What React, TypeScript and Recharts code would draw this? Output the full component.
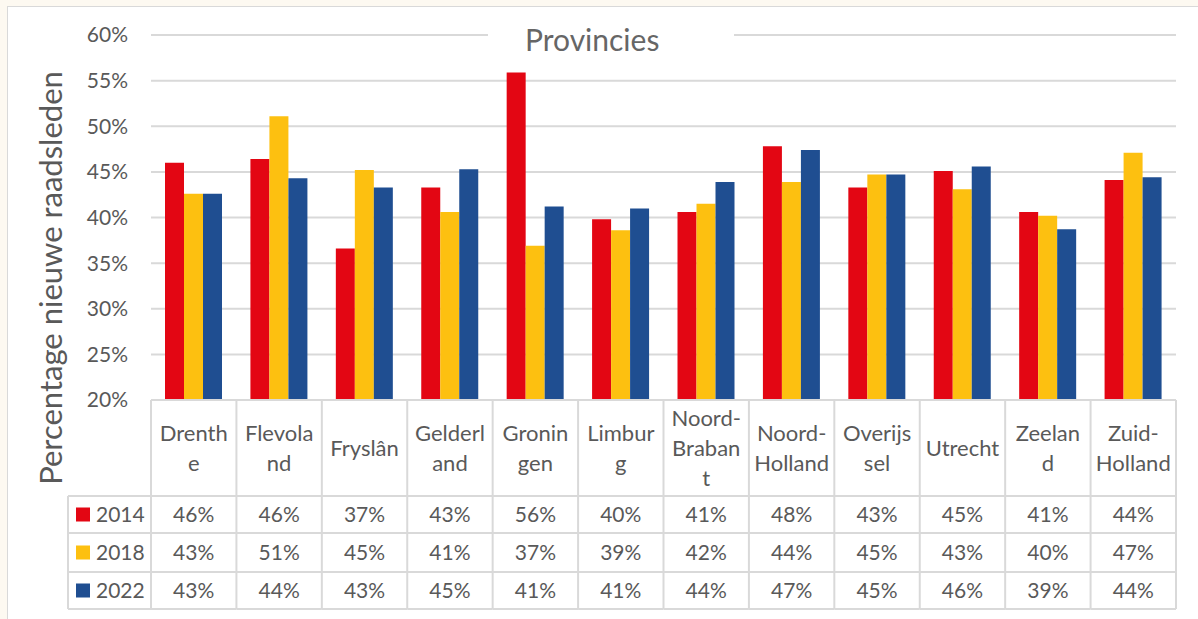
import { BarChart, Bar, XAxis, YAxis, CartesianGrid } from 'recharts';

const CATEGORIES = ['Drenthe', 'Flevoland', 'Fryslân', 'Gelderland', 'Groningen', 'Limburg', 'Noord-Brabant', 'Noord-Holland', 'Overijssel', 'Utrecht', 'Zeeland', 'Zuid-Holland'];
// how the names wrap inside the table header cells
const LABEL_LINES = [['Drenth', 'e'], ['Flevola', 'nd'], ['Fryslân'], ['Gelderl', 'and'], ['Gronin', 'gen'], ['Limbur', 'g'], ['Noord-', 'Braban', 't'], ['Noord-', 'Holland'], ['Overijs', 'sel'], ['Utrecht'], ['Zeelan', 'd'], ['Zuid-', 'Holland']];

const Y2014 = [46.0, 46.4, 36.6, 43.3, 55.9, 39.8, 40.6, 47.8, 43.3, 45.1, 40.6, 44.1];
const Y2018 = [42.6, 51.1, 45.2, 40.6, 36.9, 38.6, 41.5, 43.9, 44.7, 43.1, 40.2, 47.1];
const Y2022 = [42.6, 44.3, 43.3, 45.3, 41.2, 41.0, 43.9, 47.4, 44.7, 45.6, 38.7, 44.4];
const Y_TICKS = [20, 25, 30, 35, 40, 45, 50, 55, 60];

const SERIES = [
  { key: 'y2014', label: '2014', color: '#e30613', values: Y2014 },
  { key: 'y2018', label: '2018', color: '#fdc010', values: Y2018 },
  { key: 'y2022', label: '2022', color: '#1f4e91', values: Y2022 },
];

const data = CATEGORIES.map((name, i) => {
  const row: Record<string, string | number> = { name };
  SERIES.forEach((s) => {
    row[s.key] = s.values[i];
  });
  return row;
});

const FONT = 'Lato, "Open Sans", sans-serif';
const TEXT = '#595959';
const LINE = '#d9d9d9';

const PLOT_LEFT = 151;
const PLOT_RIGHT = 1176;
const BAND = (PLOT_RIGHT - PLOT_LEFT) / CATEGORIES.length;
const TABLE_TOP = 400;
const ROWS = [496, 533, 572, 609];
const LEGEND_LEFT = 68;

function TableColumn(props: any) {
  const { x, index } = props;
  const left = x - BAND / 2;
  const right = x + BAND / 2;
  const lines = LABEL_LINES[index] ?? [];
  const headMid = (TABLE_TOP + ROWS[0]) / 2;
  const first = headMid - ((lines.length - 1) * 30) / 2;
  return (
    <g>
      <line x1={left} x2={left} y1={TABLE_TOP} y2={ROWS[3]} stroke={LINE} strokeWidth={2} />
      {index === CATEGORIES.length - 1 && (
        <line x1={right} x2={right} y1={TABLE_TOP} y2={ROWS[3]} stroke={LINE} strokeWidth={2} />
      )}
      {[TABLE_TOP, ...ROWS].map((yy) => (
        <line key={yy} x1={left} x2={right} y1={yy} y2={yy} stroke={LINE} strokeWidth={2} />
      ))}
      {lines.map((ln, j) => (
        <text key={j} x={x} y={first + j * 30 + 8} textAnchor="middle" fontSize={22} fill={TEXT} fontFamily={FONT}>
          {ln}
        </text>
      ))}
      {SERIES.map((s, r) => (
        <text key={s.key} x={x} y={(ROWS[r] + ROWS[r + 1]) / 2 + 7.5} textAnchor="middle" fontSize={21} fill={TEXT} fontFamily={FONT}>
          {Math.round(s.values[index])}%
        </text>
      ))}
      {index === 0 && (
        <g>
          <line x1={LEGEND_LEFT} x2={LEGEND_LEFT} y1={ROWS[0]} y2={ROWS[3]} stroke={LINE} strokeWidth={2} />
          {ROWS.map((yy) => (
            <line key={yy} x1={LEGEND_LEFT} x2={left} y1={yy} y2={yy} stroke={LINE} strokeWidth={2} />
          ))}
          {SERIES.map((s, r) => {
            const mid = (ROWS[r] + ROWS[r + 1]) / 2;
            return (
              <g key={s.key}>
                <rect x={76} y={mid - 7} width={14} height={14} fill={s.color} />
                <text x={96} y={mid + 7.5} fontSize={21} fill={TEXT} fontFamily={FONT}>
                  {s.label}
                </text>
              </g>
            );
          })}
        </g>
      )}
    </g>
  );
}

export default function App() {
  return (
    <div style={{ position: 'absolute', left: 0, top: 0, width: 1198, height: 619, background: '#fdf9f1' }}>
      <div
        style={{
          position: 'absolute',
          left: 7,
          top: 6,
          right: 0,
          bottom: 0,
          background: '#ffffff',
          borderTop: `1.5px solid ${LINE}`,
          borderLeft: `1.5px solid ${LINE}`,
        }}
      />
      <div style={{ position: 'absolute', left: 0, top: 0 }}>
        <BarChart
          width={1198}
          height={619}
          data={data}
          margin={{ top: 35, right: 1198 - PLOT_RIGHT, bottom: 10, left: 0 }}
          barGap={0}
          barSize={19}
        >
          <CartesianGrid vertical={false} stroke={LINE} strokeWidth={2} />
          <YAxis
            width={PLOT_LEFT}
            domain={[20, 60]}
            ticks={Y_TICKS}
            tickFormatter={(v) => `${v}%`}
            axisLine={false}
            tickLine={false}
            tickMargin={17}
            tick={{ fontSize: 21, fill: TEXT, fontFamily: FONT }}
            label={{
              content: () => (
                <text x={62} y={278} transform="rotate(-90 62 278)" textAnchor="middle" fontSize={31} fill={TEXT} fontFamily={FONT}>
                  Percentage nieuwe raadsleden
                </text>
              ),
            }}
          />
          <XAxis dataKey="name" height={209} axisLine={false} tickLine={false} interval={0} tick={(p: any) => <TableColumn {...p} />} />
          {SERIES.map((s) => (
            <Bar key={s.key} dataKey={s.key} fill={s.color} isAnimationActive={false} />
          ))}
        </BarChart>
      </div>
      <div
        style={{
          position: 'absolute',
          left: 488,
          top: 21,
          width: 246,
          height: 36,
          background: '#ffffff',
          color: '#666666',
          fontFamily: FONT,
          fontSize: 30,
          lineHeight: '36px',
          boxSizing: 'border-box',
          paddingLeft: 37,
        }}
      >
        Provincies
      </div>
    </div>
  );
}
